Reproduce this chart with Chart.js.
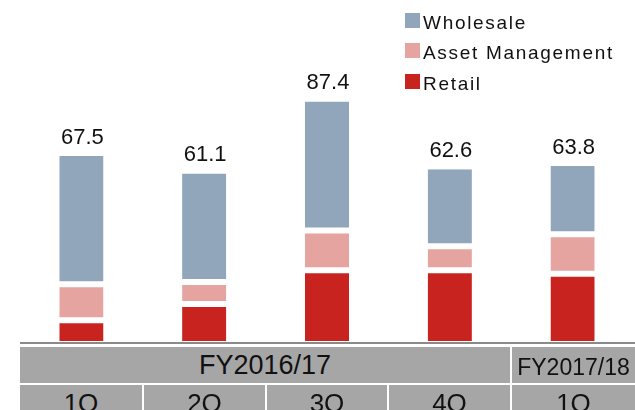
<!DOCTYPE html>
<html>
<head>
<meta charset="utf-8">
<script src="https://cdn.jsdelivr.net/npm/chart.js@4"></script>
<style>
  html, body { margin: 0; padding: 0; background: #fff; overflow: hidden; }
  #wrap { position: relative; width: 635px; height: 410px; font-family: Arial, "Liberation Sans", sans-serif; }
  #chart { position: absolute; left: 0; top: 0; }
  .cell { position: absolute; background: #a6a6a6; color: #111; text-align: center; overflow: hidden; white-space: nowrap; }
  .axisline { position: absolute; left: 20px; width: 615px; top: 342px; height: 2px; background: #8a8a8a; }
  #legend { position: absolute; left: 405px; top: 13px; }
  .lg-row { position: relative; height: 30.4px; }
  .lg-box { position: absolute; left: 0; top: 0; width: 15px; height: 15px; }
  .lg-text { position: absolute; left: 18px; top: 0; font-size: 19px; line-height: 19px; letter-spacing: 1.7px; color: #111; white-space: nowrap; }
</style>
</head>
<body>
<div id="wrap">
  <canvas id="chart" width="635" height="410"></canvas>
  <div class="axisline"></div>
  <div id="legend"></div>
</div>
<script>
const quarters = ["1Q", "2Q", "3Q", "4Q", "1Q"];
const fiscalYears = ["FY2016/17", "FY2017/18"];
const fiscalSpans = [4, 1];

const retail = [7.6, 13.5, 25.8, 25.8, 24.5];
const assetMgmt = [13.1, 8.0, 14.5, 8.8, 14.4];
const wholesale = [46.8, 39.6, 47.1, 28.0, 24.9];
const totals = [67.5, 61.1, 87.4, 62.6, 63.8];

const COLORS = {
  wholesale: "#91a6ba",
  asset: "#e6a4a1",
  retail: "#c8231f",
};

const wrap = document.getElementById("wrap");

// total labels above each stack
const totalsPlugin = {
  id: "totals",
  afterDatasetsDraw(chart) {
    const { ctx, scales } = chart;
    ctx.save();
    ctx.font = '22px Arial, "Liberation Sans", sans-serif';
    ctx.fillStyle = "#111";
    ctx.textAlign = "center";
    ctx.textBaseline = "alphabetic";
    totals.forEach((t, i) => {
      const x = scales.x.getPixelForValue(i);
      const y = scales.y.getPixelForValue(t);
      ctx.fillText(t.toFixed(1), x + 1, y - 12);
    });
    ctx.restore();
  }
};

const chart = new Chart(document.getElementById("chart"), {
  type: "bar",
  data: {
    labels: quarters,
    datasets: [
      {
        label: "Retail",
        data: retail,
        backgroundColor: COLORS.retail,
        borderColor: "#fff",
        borderWidth: { top: 3, bottom: 0, left: 0, right: 0 },
        borderSkipped: false,
      },
      {
        label: "Asset Management",
        data: assetMgmt,
        backgroundColor: COLORS.asset,
        borderColor: "#fff",
        borderWidth: { top: 3, bottom: 3, left: 0, right: 0 },
        borderSkipped: false,
      },
      {
        label: "Wholesale",
        data: wholesale,
        backgroundColor: COLORS.wholesale,
        borderColor: "#fff",
        borderWidth: { top: 0, bottom: 3, left: 0, right: 0 },
        borderSkipped: false,
      },
    ]
  },
  options: {
    responsive: false,
    devicePixelRatio: 1,
    animation: false,
    layout: { padding: { left: 20, right: 1, top: 12, bottom: 69 } },
    datasets: { bar: { barPercentage: 0.36, categoryPercentage: 1 } },
    scales: {
      x: { stacked: true, display: false },
      y: { stacked: true, display: false, min: 0, max: 120 }
    },
    plugins: {
      legend: { display: false },
      tooltip: { enabled: false }
    }
  },
  plugins: [totalsPlugin]
});

// legend (top to bottom = stack order top to bottom)
const legendEl = document.getElementById("legend");
chart.data.datasets.slice().reverse().forEach(ds => {
  const row = document.createElement("div");
  row.className = "lg-row";
  row.innerHTML = `<div class="lg-box" style="background:${ds.backgroundColor}"></div><span class="lg-text">${ds.label}</span>`;
  legendEl.appendChild(row);
});

// category table under the plot, columns follow the x scale
function addCell(left, right, top, height, text, fontSize, lineHeight) {
  const c = document.createElement("div");
  c.className = "cell";
  c.style.left = left + "px";
  c.style.width = (right - left) + "px";
  c.style.top = top + "px";
  c.style.height = height + "px";
  c.style.fontSize = fontSize + "px";
  c.style.lineHeight = lineHeight + "px";
  c.textContent = text;
  wrap.appendChild(c);
}

const xs = chart.scales.x;
const step = xs.getPixelForValue(1) - xs.getPixelForValue(0);
const edges = quarters.map((q, i) => xs.getPixelForValue(i) - step / 2);
edges.push(635);

let col = 0;
fiscalYears.forEach((fy, k) => {
  const l = Math.round(edges[col]) + (col > 0 ? 1 : 0);
  const r = Math.round(edges[col + fiscalSpans[k]]) - (col + fiscalSpans[k] < quarters.length ? 1 : 0);
  const small = fiscalSpans[k] === 1;
  addCell(l, r, 347, 36, fy, small ? 23 : 27, small ? 41 : 36);
  col += fiscalSpans[k];
});

quarters.forEach((q, i) => {
  const l = Math.round(edges[i]) + (i > 0 ? 1 : 0);
  const r = Math.round(edges[i + 1]) - (i < quarters.length - 1 ? 1 : 0);
  addCell(l, r, 385, 40, q, 26, 36);
});
</script>
</body>
</html>
